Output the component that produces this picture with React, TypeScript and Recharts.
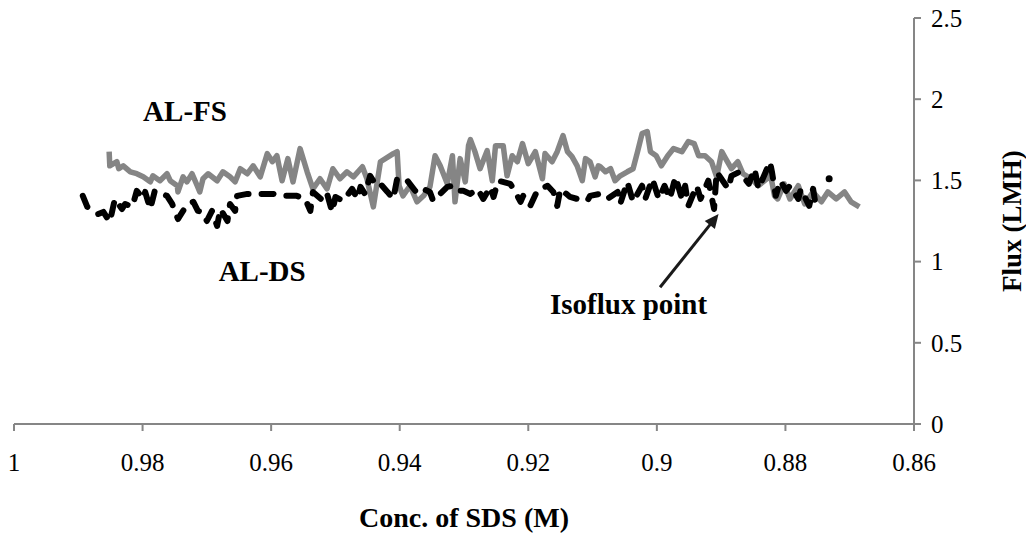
import React from 'react';
import { LineChart, Line, XAxis, YAxis, ReferenceDot, ReferenceLine, Label } from 'recharts';

// ---- axis ticks ----
const xTicks = [1, 0.98, 0.96, 0.94, 0.92, 0.9, 0.88, 0.86];
const yTicks = [0, 0.5, 1, 1.5, 2, 2.5];

// ---- AL-FS (grey solid) ----
const fsConc = [
  0.9852, 0.9851, 0.984, 0.9837, 0.983, 0.9819, 0.9809, 0.9799, 0.9788, 0.9784,
  0.9773, 0.9762, 0.9757, 0.9746, 0.9745, 0.9737, 0.9731, 0.9723, 0.9715, 0.9711,
  0.9706, 0.9698, 0.9684, 0.9675, 0.9664, 0.9656, 0.9648, 0.9637, 0.9628, 0.9617,
  0.9606, 0.9598, 0.9591, 0.9583, 0.9574, 0.9566, 0.9555, 0.9544, 0.9535, 0.9524,
  0.9513, 0.9504, 0.9493, 0.9482, 0.9472, 0.9458, 0.9451, 0.9441, 0.943, 0.941,
  0.9404, 0.9401, 0.9395, 0.9384, 0.9373, 0.9363, 0.9353, 0.9345, 0.9337, 0.9326,
  0.9318, 0.9314, 0.9306, 0.9298, 0.9293, 0.929, 0.9283, 0.9275, 0.9264, 0.9256,
  0.9251, 0.9239, 0.9233, 0.9225, 0.9217, 0.9209, 0.92, 0.9189, 0.9178, 0.9174,
  0.9163, 0.9155, 0.9146, 0.9139, 0.9132, 0.9124, 0.9116, 0.9111, 0.9104, 0.9096,
  0.9091, 0.9088, 0.908, 0.9072, 0.9065, 0.9057, 0.9046, 0.9037, 0.903, 0.9023,
  0.9015, 0.901, 0.9001, 0.8993, 0.8983, 0.8974, 0.8961, 0.8951, 0.8942, 0.8935,
  0.8925, 0.8915, 0.8907, 0.8899, 0.8893, 0.8884, 0.8874, 0.8866, 0.8853, 0.8842,
  0.8829, 0.8824, 0.8817, 0.8812, 0.8802, 0.8793, 0.878, 0.877, 0.8757, 0.8744,
  0.8734, 0.8721, 0.8708, 0.8698, 0.8685,
];
const fsFlux = [
  1.677, 1.59, 1.615, 1.572, 1.59, 1.553, 1.541, 1.522, 1.491, 1.528,
  1.498, 1.541, 1.498, 1.467, 1.429, 1.522, 1.491, 1.541, 1.467, 1.429,
  1.51, 1.541, 1.498, 1.553, 1.522, 1.491, 1.572, 1.541, 1.59, 1.522,
  1.665, 1.615, 1.652, 1.498, 1.634, 1.491, 1.696, 1.553, 1.448, 1.51,
  1.448, 1.572, 1.51, 1.553, 1.522, 1.584, 1.51, 1.337, 1.615, 1.665,
  1.677, 1.467, 1.405, 1.467, 1.368, 1.405, 1.46, 1.652, 1.59, 1.479,
  1.652, 1.368, 1.634, 1.491, 1.714, 1.751, 1.677, 1.572, 1.683, 1.498,
  1.714, 1.714, 1.528, 1.652, 1.615, 1.727, 1.603, 1.677, 1.51, 1.665,
  1.615, 1.677, 1.776, 1.677, 1.646, 1.59, 1.498, 1.634, 1.615, 1.522,
  1.59, 1.584, 1.553, 1.572, 1.498, 1.528, 1.553, 1.572, 1.677, 1.788,
  1.801, 1.677, 1.652, 1.59, 1.652, 1.696, 1.677, 1.739, 1.727, 1.652,
  1.652, 1.615, 1.522, 1.677, 1.634, 1.572, 1.615, 1.541, 1.51, 1.467,
  1.51, 1.553, 1.405, 1.386, 1.479, 1.386, 1.467, 1.355, 1.429, 1.368,
  1.429, 1.386, 1.429, 1.368, 1.337,
];

// ---- AL-DS (black dashed) ----
const dsConc = [
  0.9893, 0.9886, 0.9877, 0.9869, 0.9861, 0.9851, 0.9843, 0.9832, 0.9827, 0.9816,
  0.9809, 0.9799, 0.9796, 0.9788, 0.9781, 0.9762, 0.9754, 0.9745, 0.9737, 0.9729,
  0.9721, 0.9714, 0.9707, 0.97, 0.9692, 0.9684, 0.9679, 0.9668, 0.9664, 0.9656,
  0.9653, 0.9637, 0.9622, 0.9597, 0.9583, 0.956, 0.9547, 0.9539, 0.9535, 0.9519,
  0.9513, 0.9505, 0.95, 0.9488, 0.9474, 0.9466, 0.9461, 0.9454, 0.9446, 0.9438,
  0.9433, 0.9419, 0.941, 0.9404, 0.9395, 0.9388, 0.9376, 0.9371, 0.9353, 0.9348,
  0.9326, 0.9317, 0.9311, 0.9301, 0.929, 0.9279, 0.927, 0.9259, 0.9254, 0.9247,
  0.9228, 0.9223, 0.9212, 0.9208, 0.9197, 0.9186, 0.9181, 0.917, 0.9161, 0.9155,
  0.915, 0.9135, 0.9124, 0.9108, 0.9104, 0.9088, 0.9077, 0.9061, 0.9057, 0.9046,
  0.9037, 0.9023, 0.9018, 0.9007, 0.8997, 0.8988, 0.898, 0.8971, 0.8961, 0.8956,
  0.8951, 0.8938, 0.8932, 0.892, 0.8911, 0.8907, 0.8889, 0.8884, 0.8871, 0.8857,
  0.8848, 0.8842, 0.8824, 0.8821, 0.8815, 0.8808, 0.8799, 0.8793, 0.878, 0.8776,
  0.8763, 0.8757, 0.8752,
];
const dsFlux = [
  1.405, 1.337, 1.312, 1.293, 1.306, 1.244, 1.386, 1.324, 1.355, 1.337,
  1.436, 1.386, 1.429, 1.324, 1.436, 1.405, 1.355, 1.262, 1.312, 1.355,
  1.368, 1.312, 1.306, 1.25, 1.312, 1.219, 1.324, 1.25, 1.355, 1.312,
  1.405, 1.417, 1.417, 1.417, 1.405, 1.405, 1.386, 1.312, 1.429, 1.374,
  1.417, 1.306, 1.398, 1.374, 1.448, 1.386, 1.46, 1.417, 1.528, 1.479,
  1.491, 1.429, 1.386, 1.51, 1.491, 1.498, 1.436, 1.46, 1.429, 1.374,
  1.46, 1.467, 1.436, 1.436, 1.417, 1.448, 1.386, 1.46, 1.398, 1.498,
  1.479, 1.448, 1.368, 1.405, 1.343, 1.436, 1.448, 1.467, 1.429, 1.343,
  1.448, 1.398, 1.386, 1.374, 1.405, 1.417, 1.386, 1.429, 1.355, 1.491,
  1.368, 1.467, 1.386, 1.51, 1.386, 1.467, 1.386, 1.522, 1.386, 1.467,
  1.343, 1.467, 1.386, 1.498, 1.324, 1.553, 1.448, 1.528, 1.553, 1.479,
  1.572, 1.448, 1.615, 1.553, 1.405, 1.498, 1.436, 1.467, 1.386, 1.448,
  1.343, 1.448, 1.324,
];
const dsTailConc = [0.8732];
const dsTailFlux = [1.51];

// ---- annotations ----
const labelFS = { conc: 0.9734, flux: 1.925, text: 'AL-FS' };
const labelDS = { conc: 0.9614, flux: 0.941, text: 'AL-DS' };
const labelIso = { conc: 0.9044, flux: 0.736, text: 'Isoflux point' };
const arrowFrom = { conc: 0.8995, flux: 0.842 };
const arrowTo = { conc: 0.8904, flux: 1.293 };

const fsData = fsConc.map((c, i) => ({ conc: c, flux: fsFlux[i] }));
const dsData = dsConc.map((c, i) => ({ conc: c, flux: dsFlux[i] }));
const dsTail = dsTailConc.map((c, i) => ({ conc: c, flux: dsTailFlux[i] }));

const FONT = "'Liberation Serif', 'Times New Roman', serif";
const AXIS = '#868686';

const textShape = (text: string) => (props: any) => (
  <text
    x={props.cx}
    y={props.cy}
    textAnchor="middle"
    dominantBaseline="central"
    fontFamily={FONT}
    fontWeight="bold"
    fontSize={29}
    fill="#000"
  >
    {text}
  </text>
);

const arrowShape = (props: any) => {
  const { x1, y1, x2, y2 } = props;
  const dx = x2 - x1;
  const dy = y2 - y1;
  const len = Math.sqrt(dx * dx + dy * dy) || 1;
  const ux = dx / len;
  const uy = dy / len;
  const hl = 14;
  const hw = 6.5;
  const bx = x2 - ux * hl;
  const by = y2 - uy * hl;
  const p1 = `${x2},${y2}`;
  const p2 = `${bx - uy * hw},${by + ux * hw}`;
  const p3 = `${bx + uy * hw},${by - ux * hw}`;
  return (
    <g>
      <line x1={x1} y1={y1} x2={bx + ux * 2} y2={by + uy * 2} stroke="#1a1a1a" strokeWidth={3} />
      <polygon points={`${p1} ${p2} ${p3}`} fill="#1a1a1a" />
    </g>
  );
};

export default function App() {
  return (
    <div style={{ position: 'absolute', left: 0, top: 0, width: 1026, height: 534, background: '#fff' }}>
      <LineChart width={1026} height={534} margin={{ top: 18, right: 0, bottom: 0, left: 14 }}>
        <XAxis
          dataKey="conc"
          type="number"
          domain={[0.86, 1]}
          reversed
          ticks={xTicks}
          allowDataOverflow
          height={110}
          axisLine={{ stroke: AXIS, strokeWidth: 2 }}
          tickLine={{ stroke: AXIS, strokeWidth: 2 }}
          tickSize={7}
          tickMargin={22}
          tick={{ fill: '#000', fontSize: 25, fontFamily: FONT }}
          tickFormatter={(v: number) => String(v)}
        >
          <Label
            content={(p: any) => {
              const vb = p.viewBox;
              return (
                <text
                  x={vb.x + vb.width / 2}
                  y={vb.y + vb.height - 7}
                  textAnchor="middle"
                  fontFamily={FONT}
                  fontWeight="bold"
                  fontSize={28}
                  fill="#000"
                >
                  Conc. of SDS (M)
                </text>
              );
            }}
          />
        </XAxis>
        <YAxis
          orientation="right"
          type="number"
          domain={[0, 2.5]}
          ticks={yTicks}
          width={112}
          axisLine={{ stroke: AXIS, strokeWidth: 2 }}
          tickLine={{ stroke: AXIS, strokeWidth: 2 }}
          tickSize={7}
          tickMargin={10}
          tick={{ fill: '#000', fontSize: 25, fontFamily: FONT }}
        >
          <Label
            content={(p: any) => {
              const vb = p.viewBox;
              const cx = vb.x + 98;
              const cy = vb.y + vb.height / 2;
              return (
                <text
                  x={cx}
                  y={cy}
                  transform={`rotate(-90, ${cx}, ${cy})`}
                  textAnchor="middle"
                  dominantBaseline="central"
                  fontFamily={FONT}
                  fontWeight="bold"
                  fontSize={27}
                  fill="#000"
                >
                  Flux (LMH)
                </text>
              );
            }}
          />
        </YAxis>
        <Line
          data={fsData}
          dataKey="flux"
          type="linear"
          stroke="#858585"
          strokeWidth={5.5}
          strokeLinejoin="round"
          dot={false}
          isAnimationActive={false}
        />
        <Line
          data={dsData}
          dataKey="flux"
          type="linear"
          stroke="#000"
          strokeWidth={6}
          strokeDasharray="12 13"
          strokeLinecap="round"
          strokeLinejoin="round"
          dot={false}
          isAnimationActive={false}
        />
        <Line
          data={dsTail}
          dataKey="flux"
          type="linear"
          stroke="none"
          dot={{ r: 3.5, fill: '#000', stroke: 'none' }}
          isAnimationActive={false}
        />
        <ReferenceDot x={labelFS.conc} y={labelFS.flux} r={1} shape={textShape(labelFS.text)} />
        <ReferenceDot x={labelDS.conc} y={labelDS.flux} r={1} shape={textShape(labelDS.text)} />
        <ReferenceDot x={labelIso.conc} y={labelIso.flux} r={1} shape={textShape(labelIso.text)} />
        <ReferenceLine
          segment={[
            { x: arrowFrom.conc, y: arrowFrom.flux },
            { x: arrowTo.conc, y: arrowTo.flux },
          ]}
          shape={arrowShape}
        />
      </LineChart>
    </div>
  );
}
